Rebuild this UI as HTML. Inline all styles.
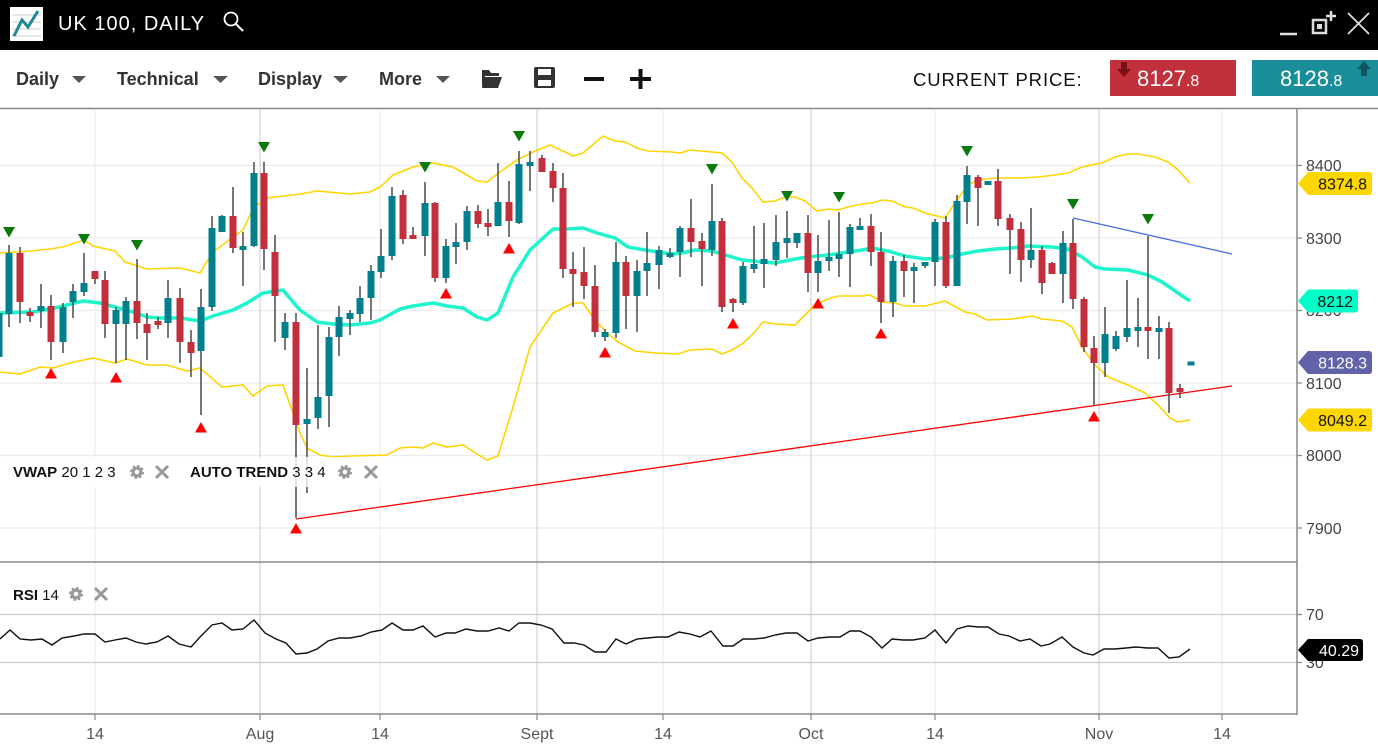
<!DOCTYPE html>
<html><head><meta charset="utf-8"><style>
html,body{margin:0;padding:0;background:#fff;width:1378px;height:746px;overflow:hidden}
svg{display:block}
text{font-family:"Liberation Sans",Arial,sans-serif}
</style></head><body>
<svg width="1378" height="746" viewBox="0 0 1378 746" xmlns="http://www.w3.org/2000/svg">
<defs><clipPath id="cm"><rect x="0" y="109" width="1297" height="452"/></clipPath>
<clipPath id="cr"><rect x="0" y="563" width="1297" height="150"/></clipPath></defs>
<!-- title bar -->
<rect x="0" y="0" width="1378" height="50" fill="#000"/>
<rect x="10" y="7" width="33" height="34" fill="#fff"/>
<g stroke="#ccc" stroke-width="1"><path d="M12 15H41M12 22H41M12 29H41M12 36H41"/></g>
<path d="M14 36L22 20L28 27L38 11" fill="none" stroke="#1a8a95" stroke-width="3"/>
<text x="58" y="30" fill="#fff" font-size="20" letter-spacing="1">UK 100, DAILY</text>
<circle cx="231" cy="19" r="6.5" fill="none" stroke="#fff" stroke-width="1.8"/>
<path d="M236 24L243 31" stroke="#fff" stroke-width="2"/>
<path d="M1280 34H1297" stroke="#ddd" stroke-width="2.5"/>
<rect x="1313" y="20" width="13" height="13" fill="none" stroke="#ddd" stroke-width="2.5"/>
<rect x="1317" y="24" width="5" height="5" fill="#ddd"/>
<path d="M1326 16H1336M1331 11V21" stroke="#ddd" stroke-width="2.5"/>
<path d="M1348 13L1369 34M1369 13L1348 34" stroke="#ddd" stroke-width="1.8"/>
<!-- toolbar -->
<g font-size="18" font-weight="bold" fill="#333">
<text x="16" y="85">Daily</text><text x="117" y="85">Technical</text><text x="258" y="85">Display</text><text x="379" y="85">More</text></g>
<g fill="#555"><path d="M72 76h14l-7 7z"/><path d="M213 76h15l-7.5 7z"/><path d="M333 76h15l-7.5 7z"/><path d="M436 76h14l-7 7z"/></g>
<path d="M482 70h7l2 3h8v3h-14l-3 11z" fill="#333"/><path d="M484 77h18l-4 11h-16z" fill="#333"/>
<rect x="534" y="67" width="21" height="21" rx="2" fill="#333"/><rect x="538" y="69" width="13" height="6" fill="#fff"/><rect x="538" y="80" width="13" height="6" fill="#fff"/>
<rect x="584" y="77" width="20" height="4" fill="#111"/>
<rect x="630" y="77" width="21" height="4" fill="#111"/><rect x="638.5" y="69" width="4" height="20" fill="#111"/>
<text x="913" y="86" font-size="18.5" fill="#111" letter-spacing="0.9">CURRENT PRICE:</text>
<rect x="1110" y="60" width="126" height="36" fill="#c1303b"/>
<path d="M1121 62h6v7h4l-7 8l-7-8h4z" fill="#7a1018"/>
<text x="1137" y="86" font-size="22" fill="#fff">8127<tspan font-size="16">.8</tspan></text>
<rect x="1252" y="60" width="126" height="36" fill="#1a8d9a"/>
<path d="M1361 76h6v-7h4l-7-8l-7 8h4z" fill="#0d5560"/>
<text x="1280" y="86" font-size="22" fill="#fff">8128<tspan font-size="16">.8</tspan></text>
<path d="M0 108.5H1378" stroke="#888" stroke-width="1.5"/>
<!-- grids -->
<g stroke="#ececec" stroke-width="1.2"><path d="M0 165.5H1297M0 238H1297M0 310.5H1297M0 383H1297M0 455.5H1297M0 528H1297"/>
<path d="M95 109V714M380 109V714M663 109V714M935 109V714M1222 109V714"/></g>
<g stroke="#d6d6d6" stroke-width="1.3"><path d="M260 109V714M537 109V714M811 109V714M1099 109V714"/></g>
<g stroke="#ccc" stroke-width="1.2"><path d="M0 614.5H1297M0 662.5H1297"/></g>
<!-- main panel -->
<g clip-path="url(#cm)">
<g fill="none" stroke="#ffd400" stroke-width="1.6">
<polyline points="0,253 30,251 50,249 63,247 84,240 93,246 115,251 125,262 147,269 180,268 200,273 212,253 233,237 243,230 254,207 267,198 300,194 317,191 350,194 370,192 380,187 393,175 413,167 433,163 453,167 467,175 477,181 487,182 500,172 517,160 533,152 550,145 567,153 573,156 583,153 603,136 615,141 625,142 637,148 648,151 672,152 680,153 690,150 712,152 722,153 732,162 742,178 752,188 763,202 775,201 785,197 795,197 805,201 817,211 828,209 838,210 848,207 862,204 872,203 882,200 892,201 905,207 913,208 925,213 945,218 957,200 968,185 978,180 995,178 1012,178 1022,178 1038,177 1055,175 1068,173 1082,167 1102,163 1115,157 1128,154 1138,154 1155,157 1168,162 1178,170 1190,183"/>
<polyline points="0,372 20,374 40,367 53,368 70,363 93,358 115,363 127,359 147,365 167,365 187,371 200,368 222,387 243,385 253,396 267,386 283,385 293,413 300,433 307,448 320,455 333,457 350,456 387,455 400,448 413,447 423,448 433,443 447,447 463,445 477,454 487,460 498,456 513,407 530,347 553,313 573,303 583,303 595,320 607,333 618,342 635,351 655,353 678,354 690,350 712,349 722,354 732,350 742,344 752,335 763,322 775,324 795,325 805,315 815,305 828,299 838,296 862,296 870,295 882,302 895,303 905,306 925,306 945,301 965,312 975,314 987,320 1012,319 1032,316 1042,319 1062,321 1072,327 1082,347 1095,365 1108,377 1128,385 1145,393 1158,405 1170,418 1178,422 1190,420"/>
</g>
<polyline fill="none" stroke="#1ff5cc" stroke-width="3.5" stroke-linejoin="round" points="0,313 33,312 50,309 67,305 83,301 100,303 115,307 133,312 147,317 160,318 180,318 200,321 213,316 233,310 247,303 263,293 283,290 293,302 300,310 317,322 333,324 350,325 370,323 380,320 400,309 413,306 433,303 447,306 463,308 477,317 487,320 498,313 513,277 530,250 553,229 567,229 583,228 597,233 615,238 628,247 645,250 658,252 672,254 682,253 695,250 712,251 722,254 742,260 762,262 775,263 795,259 808,257 828,255 848,252 862,250 872,248 888,251 905,256 925,259 945,258 962,254 978,251 995,249 1012,248 1028,246 1052,247 1068,249 1082,257 1095,267 1105,269 1128,270 1148,275 1162,282 1178,293 1190,301"/>
<path d="M296 519L1232 386" stroke="#f00" stroke-width="1.3"/>
<path d="M1073 218L1232 254" stroke="#4a6ee0" stroke-width="1.3"/>
<!-- wicks -->
<path stroke="#555" stroke-width="1.6" fill="none" d="M-1 300V362M9 245V327M20 247V323M30 308V322M41 284V328M51 295V360M63 303V353M73 284V318M84 253V296M95 271V284M105 271V338M116 307V363M126 297V360M137 259V339M147 313V360M158 317V329M168 280V338M180 288V363M191 330V377M201 289V415M212 216V311M222 215V232M233 187V253M243 232V286M254 162V247M264 162V270M275 235V342M285 313V350M296 313V518M307 368V493M318 325V429M329 327V427M339 306V356M350 310V335M360 286V322M371 265V320M381 229V278M392 187V260M403 190V244M413 227V239M425 182V256M435 202V282M446 239V283M456 223V264M467 206V250M478 205V228M488 209V236M498 163V226M509 181V237M519 151V224M530 151V191M542 155V172M553 163V202M563 173V278M573 252V307M584 247V299M595 265V337M605 329V341M616 242V338M626 256V329M637 260V332M647 232V296M659 246V289M670 248V258M680 226V277M691 199V257M702 233V286M712 184V256M722 218V312M733 298V312M743 262V305M754 226V273M764 223V288M776 215V266M787 211V258M797 233V248M808 215V292M818 235V292M829 220V271M839 212V277M850 224V287M860 218V230M871 214V266M881 232V323M893 256V317M904 255V297M914 263V303M925 262V268M935 219V286M946 216V288M957 195V286M967 166V224M978 175V226M988 181V185M998 169V226M1010 214V274M1021 222V282M1031 208V268M1042 246V294M1052 262V274M1063 231V303M1073 219V309M1084 297V352M1094 336V405M1105 307V377M1116 331V351M1127 280V342M1138 298V347M1148 236V359M1159 316V359M1169 322V413M1180 384V398"/>
<!-- teal bodies -->
<path fill="#007f8d" d="M-4.5 313h7V357h-7zM5.5 253h7V314h-7zM37.5 306h7V311h-7zM59.5 307h7V342h-7zM69.5 291h7V302h-7zM80.5 283h7V292h-7zM112.5 310h7V324h-7zM122.5 301h7V324h-7zM164.5 298h7V323h-7zM197.5 307h7V351h-7zM208.5 228h7V307h-7zM218.5 216h7V232h-7zM239.5 246h7V250h-7zM250.5 173h7V246h-7zM281.5 322h7V338h-7zM303.5 419h7V424h-7zM314.5 397h7V418h-7zM325.5 337h7V396h-7zM335.5 317h7V337h-7zM346.5 313h7V319h-7zM356.5 298h7V314h-7zM367.5 271h7V298h-7zM377.5 256h7V272h-7zM388.5 196h7V256h-7zM421.5 203h7V236h-7zM442.5 246h7V278h-7zM452.5 242h7V247h-7zM463.5 211h7V242h-7zM494.5 202h7V226h-7zM515.5 164h7V223h-7zM526.5 162h7V166h-7zM601.5 332h7V337h-7zM612.5 262h7V333h-7zM633.5 271h7V296h-7zM643.5 263h7V271h-7zM655.5 250h7V265h-7zM666.5 253h7V257h-7zM676.5 228h7V252h-7zM708.5 221h7V250h-7zM739.5 266h7V303h-7zM750.5 264h7V269h-7zM760.5 259h7V264h-7zM772.5 242h7V260h-7zM783.5 238h7V243h-7zM793.5 233h7V243h-7zM814.5 261h7V273h-7zM825.5 257h7V261h-7zM835.5 254h7V259h-7zM846.5 227h7V254h-7zM856.5 226h7V230h-7zM889.5 261h7V302h-7zM910.5 267h7V271h-7zM921.5 262h7V266h-7zM931.5 222h7V262h-7zM953.5 201h7V286h-7zM963.5 175h7V202h-7zM984.5 181h7V185h-7zM1027.5 250h7V260h-7zM1059.5 243h7V274h-7zM1101.5 334h7V363h-7zM1112.5 336h7V349h-7zM1123.5 328h7V337h-7zM1134.5 327h7V331h-7zM1155.5 328h7V332h-7zM1187.5 361.5h7V365.5h-7z"/>
<!-- red bodies -->
<path fill="#c22f3b" d="M16.5 253h7V302h-7zM26.5 312h7V316h-7zM47.5 306h7V342h-7zM91.5 271h7V279h-7zM101.5 280h7V324h-7zM133.5 301h7V323h-7zM143.5 324h7V333h-7zM154.5 321h7V325h-7zM176.5 298h7V342h-7zM187.5 342h7V353h-7zM229.5 216h7V248h-7zM260.5 173h7V249h-7zM271.5 252h7V296h-7zM292.5 322h7V425h-7zM399.5 195h7V239h-7zM409.5 235h7V239h-7zM431.5 203h7V278h-7zM474.5 211h7V224h-7zM484.5 223h7V227h-7zM505.5 202h7V221h-7zM538.5 158h7V172h-7zM549.5 171h7V188h-7zM559.5 188h7V269h-7zM569.5 269h7V274h-7zM580.5 272h7V286h-7zM591.5 286h7V332h-7zM622.5 262h7V296h-7zM687.5 228h7V242h-7zM698.5 241h7V249h-7zM718.5 221h7V307h-7zM729.5 299h7V303h-7zM804.5 233h7V273h-7zM867.5 226h7V252h-7zM877.5 252h7V302h-7zM900.5 261h7V271h-7zM942.5 222h7V286h-7zM974.5 177h7V188h-7zM994.5 181h7V219h-7zM1006.5 218h7V230h-7zM1017.5 229h7V260h-7zM1038.5 250h7V283h-7zM1048.5 263h7V274h-7zM1069.5 243h7V299h-7zM1080.5 299h7V347h-7zM1090.5 348h7V363h-7zM1144.5 327h7V331h-7zM1165.5 328h7V393h-7zM1176.5 388h7V392h-7z"/>
<!-- markers -->
<g fill="#0a7a0a"><path d="M3 227h12l-6 10.5z"/><path d="M78 234h12l-6 10.5z"/><path d="M131 240h12l-6 10.5z"/><path d="M258 142h12l-6 10.5z"/><path d="M419 162h12l-6 10.5z"/><path d="M513 131h12l-6 10.5z"/><path d="M706 164h12l-6 10.5z"/><path d="M781 191h12l-6 10.5z"/><path d="M833 192h12l-6 10.5z"/><path d="M961 146h12l-6 10.5z"/><path d="M1067 199h12l-6 10.5z"/><path d="M1142 214h12l-6 10.5z"/></g>
<g fill="#f00"><path d="M45 378.5h12l-6-10.5z"/><path d="M110 382.5h12l-6-10.5z"/><path d="M195 432.5h12l-6-10.5z"/><path d="M290 533.5h12l-6-10.5z"/><path d="M440 298.5h12l-6-10.5z"/><path d="M503 253.5h12l-6-10.5z"/><path d="M599 357.5h12l-6-10.5z"/><path d="M727 328.5h12l-6-10.5z"/><path d="M812 308.5h12l-6-10.5z"/><path d="M875 338.5h12l-6-10.5z"/><path d="M1088 421.5h12l-6-10.5z"/></g>
<!-- legend -->
<rect x="0" y="457" width="180" height="30" fill="#fff" fill-opacity="0.82"/>
<rect x="183" y="457" width="207" height="30" fill="#fff" fill-opacity="0.82"/>
</g>
<g font-size="15" fill="#111">
<text x="13" y="477"><tspan font-weight="bold">VWAP</tspan> 20 1 2 3</text>
<text x="190" y="477"><tspan font-weight="bold">AUTO TREND</tspan> 3 3 4</text>
<text x="13" y="600"><tspan font-weight="bold">RSI</tspan> 14</text>
</g>
<g fill="#999" stroke="#999">
<circle cx="137" cy="472" r="5.5" stroke-width="3" stroke-dasharray="2.3 2"/><circle cx="345" cy="472" r="5.5" stroke-width="3" stroke-dasharray="2.3 2"/><circle cx="76" cy="594" r="5.5" stroke-width="3" stroke-dasharray="2.3 2"/></g>
<g fill="#fff"><circle cx="137" cy="472" r="2.3"/><circle cx="345" cy="472" r="2.3"/><circle cx="76" cy="594" r="2.3"/></g>
<g stroke="#999" stroke-width="3"><path d="M156 466l12 12M168 466l-12 12M365 466l12 12M377 466l-12 12M95 588l12 12M107 588l-12 12"/></g>
<!-- RSI -->
<g clip-path="url(#cr)">
<polyline fill="none" stroke="#111" stroke-width="1.4" points="0,639 10,630 20,639 31,640 42,639 52,645 62,638 74,636 84,634 95,634 105,642 115,640 126,638 136,642 146,644 157,642 168,636 179,644 191,647 201,636 212,625 222,623 232,630 243,629 254,620 265,633 276,639 286,643 296,654 307,653 317,649 328,641 339,638 350,638 361,636 371,632 382,630 392,623 403,630 413,630 423,626 435,637 446,633 455,633 466,629 477,631 488,631 499,628 509,631 519,623 530,623 541,625 552,629 564,643 574,643 584,645 595,652 606,652 616,639 626,644 637,639 647,638 658,637 668,637 679,632 690,634 700,637 711,631 723,646 733,646 743,639 754,639 764,638 775,635 786,633 797,633 808,641 818,638 830,637 840,637 850,631 860,631 871,637 882,648 892,639 903,640 913,640 925,638 935,630 946,643 957,629 968,626 979,627 988,627 999,634 1009,636 1020,641 1030,639 1041,646 1050,644 1062,637 1073,647 1084,653 1093,655 1104,649 1115,649 1126,648 1136,647 1147,648 1158,648 1169,658 1179,657 1190,649"/>
</g>
<!-- axes -->
<path d="M0 562H1297M0 714H1297" stroke="#888" stroke-width="1.5"/>
<path d="M1297 108V715" stroke="#888" stroke-width="1.5"/>
<g stroke="#888" stroke-width="1.2"><path d="M1297 165.5h5M1297 238h5M1297 310.5h5M1297 383h5M1297 455.5h5M1297 528h5M1297 614.5h5M1297 662.5h5"/>
<path d="M95 714v6M260 714v6M380 714v6M537 714v6M663 714v6M811 714v6M935 714v6M1099 714v6M1222 714v6"/></g>
<g font-size="16" fill="#444">
<text x="1306" y="171">8400</text><text x="1306" y="244">8300</text><text x="1306" y="316">8200</text><text x="1306" y="389">8100</text><text x="1306" y="461">8000</text><text x="1306" y="534">7900</text>
<text x="1306" y="620">70</text><text x="1306" y="668">30</text></g>
<g font-size="16" fill="#555" text-anchor="middle">
<text x="95" y="739">14</text><text x="260" y="739">Aug</text><text x="380" y="739">14</text><text x="537" y="739">Sept</text><text x="663" y="739">14</text><text x="811" y="739">Oct</text><text x="935" y="739">14</text><text x="1099" y="739">Nov</text><text x="1222" y="739">14</text></g>
<!-- tags -->
<path d="M1298 183.5l10-11.5h61q3 0 3 3v17q0 3-3 3h-61z" fill="#ffd700"/>
<text x="1367" y="189.5" font-size="16" fill="#111" text-anchor="end">8374.8</text>
<path d="M1298 301l10-11.5h47q3 0 3 3v17q0 3-3 3h-47z" fill="#00ffc8"/>
<text x="1353" y="307" font-size="16" fill="#111" text-anchor="end">8212</text>
<path d="M1298 362.5l10-11.5h61q3 0 3 3v17q0 3-3 3h-61z" fill="#6262a8"/>
<text x="1367" y="368.5" font-size="16" fill="#fff" text-anchor="end">8128.3</text>
<path d="M1298 420l10-11.5h61q3 0 3 3v17q0 3-3 3h-61z" fill="#ffd700"/>
<text x="1367" y="426" font-size="16" fill="#111" text-anchor="end">8049.2</text>
<path d="M1298 650l10-11h52q3 0 3 3v16q0 3-3 3h-52z" fill="#000"/>
<text x="1359" y="656" font-size="16" fill="#fff" text-anchor="end">40.29</text>
</svg>
</body></html>
